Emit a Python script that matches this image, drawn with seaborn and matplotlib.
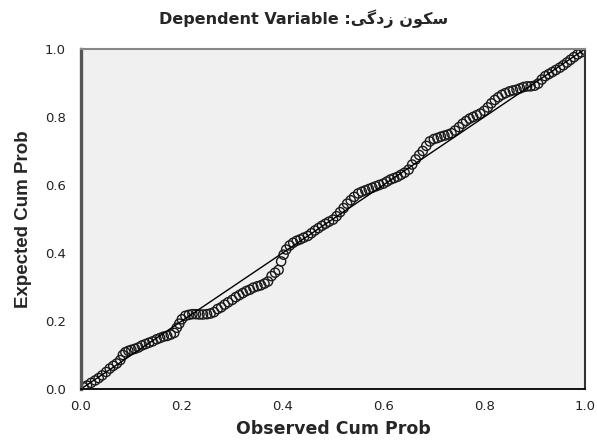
import matplotlib
matplotlib.use("Agg")
import matplotlib.pyplot as plt
import numpy as np
import pandas as pd
import seaborn as sns

# observed vs expected cumulative probabilities
observed = [
    0.005, 0.012, 0.020, 0.028, 0.035, 0.042, 0.050, 0.057, 0.064, 0.071,
    0.078, 0.083, 0.088, 0.094, 0.100, 0.107, 0.114, 0.121, 0.128, 0.135,
    0.142, 0.150, 0.157, 0.164, 0.171, 0.178, 0.185, 0.190, 0.195, 0.200,
    0.207, 0.214, 0.221, 0.228, 0.235, 0.242, 0.250, 0.257, 0.264, 0.271,
    0.278, 0.285, 0.292, 0.300, 0.307, 0.314, 0.321, 0.328, 0.335, 0.342,
    0.350, 0.357, 0.364, 0.371, 0.378, 0.385, 0.392, 0.397, 0.402, 0.407,
    0.414, 0.421, 0.428, 0.435, 0.442, 0.450, 0.457, 0.464, 0.471, 0.478,
    0.485, 0.492, 0.500, 0.507, 0.514, 0.521, 0.528, 0.535, 0.542, 0.550,
    0.557, 0.564, 0.571, 0.578, 0.585, 0.592, 0.600, 0.607, 0.614, 0.621,
    0.628, 0.635, 0.642, 0.650, 0.657, 0.664, 0.671, 0.678, 0.685, 0.692,
    0.700, 0.707, 0.714, 0.721, 0.728, 0.735, 0.742, 0.750, 0.757, 0.764,
    0.771, 0.778, 0.785, 0.792, 0.800, 0.807, 0.814, 0.821, 0.828, 0.835,
    0.842, 0.850, 0.857, 0.864, 0.871, 0.878, 0.885, 0.892, 0.900, 0.907,
    0.914, 0.921, 0.928, 0.935, 0.942, 0.950, 0.957, 0.964, 0.971, 0.978,
    0.985, 0.992, 0.998,
]
expected = [
    0.005, 0.010, 0.018, 0.025, 0.032, 0.040, 0.050, 0.060, 0.068, 0.075,
    0.085, 0.100, 0.108, 0.112, 0.115, 0.118, 0.122, 0.128, 0.132, 0.136,
    0.140, 0.146, 0.150, 0.154, 0.156, 0.160, 0.165, 0.180, 0.192, 0.205,
    0.215, 0.218, 0.220, 0.220, 0.219, 0.219, 0.220, 0.222, 0.226, 0.235,
    0.240, 0.248, 0.255, 0.262, 0.270, 0.276, 0.282, 0.288, 0.292, 0.298,
    0.302, 0.305, 0.310, 0.316, 0.332, 0.342, 0.350, 0.375, 0.395, 0.410,
    0.422, 0.430, 0.436, 0.440, 0.445, 0.450, 0.458, 0.466, 0.473, 0.480,
    0.486, 0.492, 0.498, 0.508, 0.520, 0.532, 0.545, 0.555, 0.565, 0.575,
    0.580, 0.584, 0.588, 0.592, 0.596, 0.600, 0.604, 0.610, 0.616, 0.620,
    0.624, 0.630, 0.636, 0.645, 0.660, 0.675, 0.688, 0.700, 0.715, 0.728,
    0.735, 0.738, 0.742, 0.745, 0.748, 0.752, 0.760, 0.770, 0.780, 0.788,
    0.795, 0.800, 0.805, 0.810, 0.818, 0.828, 0.840, 0.850, 0.858, 0.865,
    0.870, 0.875, 0.878, 0.880, 0.884, 0.888, 0.890, 0.890, 0.892, 0.898,
    0.910, 0.920, 0.926, 0.932, 0.938, 0.945, 0.952, 0.960, 0.968, 0.976,
    0.984, 0.990, 0.998,
]
ref_line = [0.0, 1.0]
ticks = [0.0, 0.2, 0.4, 0.6, 0.8, 1.0]
tick_labels = ["0.0", "0.2", "0.4", "0.6", "0.8", "1.0"]

# Persian text in visual order, pre-shaped presentation forms
dep_var = "\uFBFD\uFB94\uFEA9\uFEAF \uFEE5\uFEEE\uFB91\uFEB3"

sns.set_style("white")
plt.rcParams['font.family'] = ['DejaVu Sans']

df = pd.DataFrame({"observed": observed, "expected": expected})

fig = plt.figure(figsize=(5.97, 4.41), dpi=100)
ax = fig.add_axes([0.1357, 0.118, 0.8443, 0.771])
ax.set_facecolor("#f0f0f0")

sns.lineplot(x=ref_line, y=ref_line, ax=ax, color="black", linewidth=1.0)
sns.scatterplot(data=df, x="observed", y="expected", ax=ax,
                marker="o", s=44, facecolor="none", edgecolor="#1a1a1a",
                linewidth=1.0)

ax.set_xlim(0, 1)
ax.set_ylim(0, 1)
ax.set_xticks(ticks)
ax.set_xticklabels(tick_labels)
ax.set_yticks(ticks)
ax.set_yticklabels(tick_labels)
ax.tick_params(axis="x", direction="out", length=6, width=1.3, color="#333333",
               pad=2, labelsize=9.5, labelcolor="#222222")
ax.tick_params(axis="y", direction="out", length=8, width=1.3, color="#333333",
               pad=3, labelsize=9.5, labelcolor="#222222")

for side, w, c in [("left", 2.4, "#555555"), ("bottom", 1.4, "#111111"),
                   ("top", 1.5, "#888888"), ("right", 1.5, "#333333")]:
    ax.spines[side].set_visible(True)
    ax.spines[side].set_linewidth(w)
    ax.spines[side].set_color(c)

ax.set_xlabel("Observed Cum Prob", fontsize=12.5, fontweight="bold", labelpad=5)
ax.set_ylabel("Expected Cum Prob", fontsize=13.5, fontweight="bold",
              family=["Liberation Sans", "DejaVu Sans"], labelpad=9)

fig.text(0.508, 0.958, "Dependent Variable :" + dep_var, ha="center",
         va="center", fontsize=11.5, fontweight="bold",
         family=["DejaVu Sans"])

fig.savefig("out.png", dpi=100)
